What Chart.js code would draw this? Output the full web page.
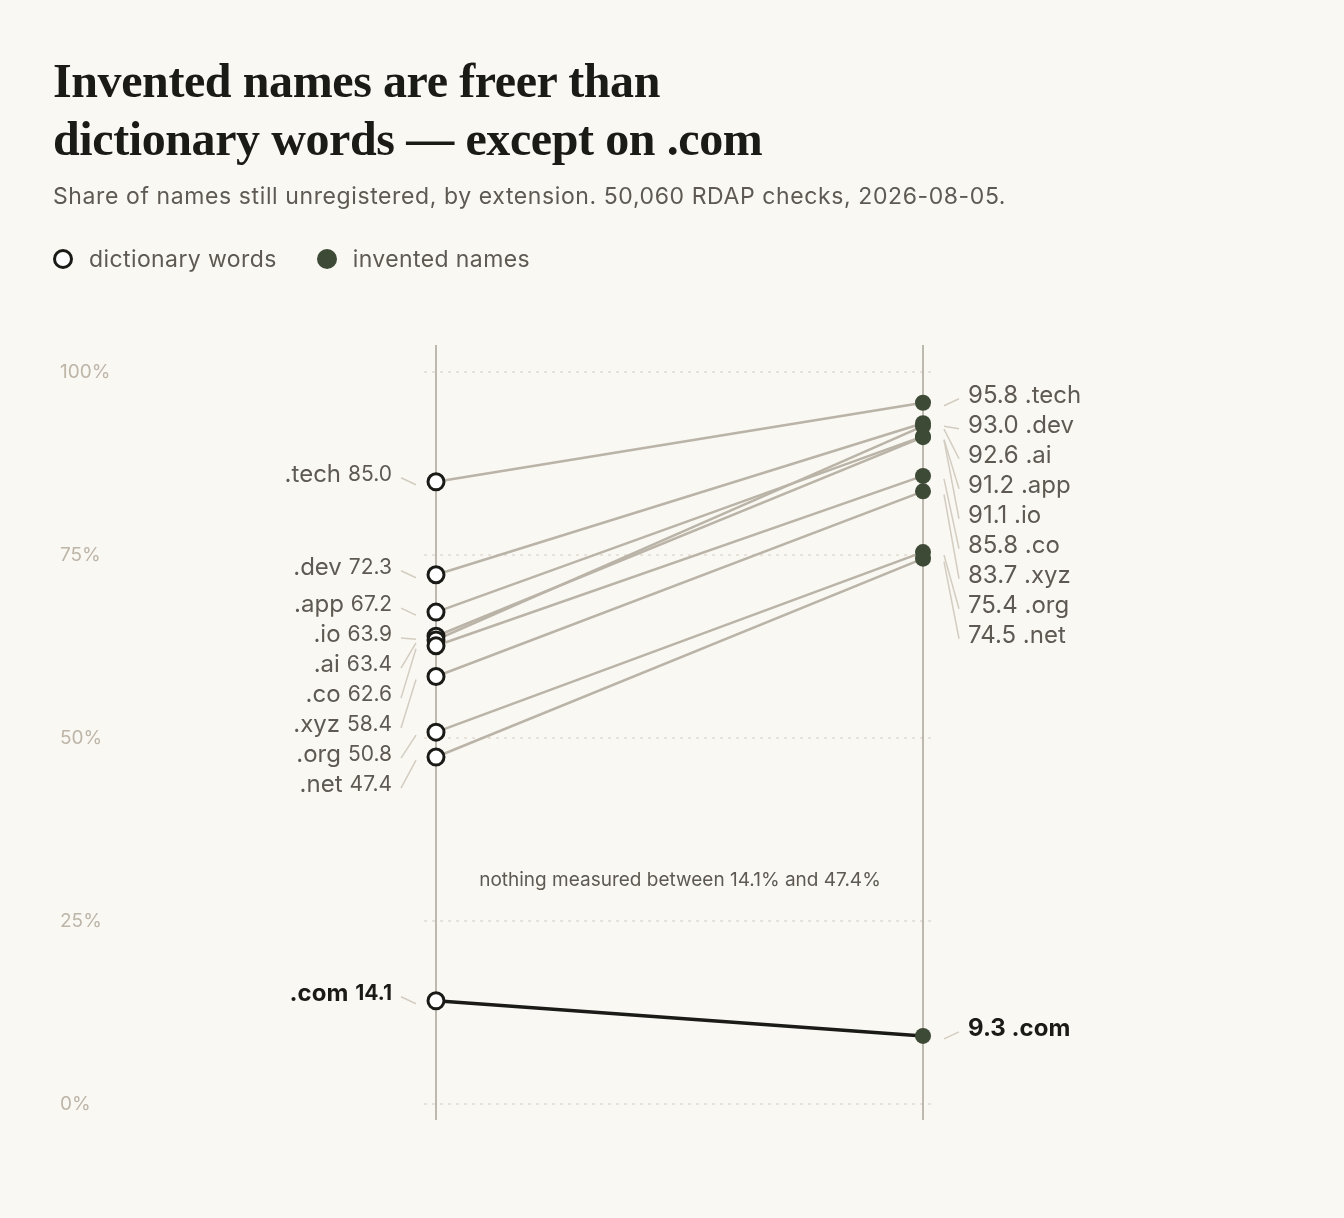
<!DOCTYPE html>
<html>
<head>
<meta charset="utf-8">
<script src="https://cdn.jsdelivr.net/npm/chart.js@4"></script>
<style>
  body { margin: 0; background: #faf8f3; font-family: "Inter", "Noto Sans", sans-serif; }
  #wrap { position: relative; width: 1344px; height: 1218px; }
  #chart { position: absolute; left: 0; top: 0; }
  h1 { position: absolute; left: 53px; top: 52px; margin: 0; font: bold 48px/58px "Liberation Serif", serif; color: #1a1a17; letter-spacing: -0.4px; }
  .sub { position: absolute; left: 53px; top: 182px; font-size: 23px; letter-spacing: 0.6px; color: #5e5a53; }
  .legend { position: absolute; left: 53px; top: 245px; font-size: 23px; letter-spacing: 0.4px; color: #5e5a53; display: flex; gap: 40px; }
  .legend span { display: flex; align-items: center; gap: 16px; }
  .dot { width: 20px; height: 20px; border-radius: 50%; box-sizing: border-box; }
</style>
</head>
<body>
<div id="wrap">
  <canvas id="chart" width="1344" height="1218"></canvas>
  <h1>Invented names are freer than<br>dictionary words — except on .com</h1>
  <div class="sub">Share of names still unregistered, by extension. 50,060 RDAP checks, 2026-08-05.</div>
  <div class="legend">
    <span><i class="dot" style="border:3.5px solid #1a1a17;background:#fff"></i>dictionary words</span>
    <span><i class="dot" style="background:#3d4a36"></i>invented names</span>
  </div>
</div>
<script>
const extensions = [".tech", ".dev", ".app", ".io", ".ai", ".co", ".xyz", ".org", ".net", ".com"];
const dictionary = [85.0, 72.3, 67.2, 63.9, 63.4, 62.6, 58.4, 50.8, 47.4, 14.1];
const invented = [95.8, 93.0, 91.2, 91.1, 92.6, 85.8, 83.7, 75.4, 74.5, 9.3];
const yTicks = [0, 25, 50, 75, 100];

const LINE = "#bab3a7", DARK = "#1a1a17", GREEN = "#3d4a36";

const lineSets = extensions.map((ext, i) => ({
  type: "line",
  data: [{ x: 0, y: dictionary[i] }, { x: 1, y: invented[i] }],
  borderColor: ext === ".com" ? DARK : LINE,
  borderWidth: ext === ".com" ? 3.5 : 2.5,
  pointRadius: 0,
  order: 2,
  clip: false
}));

const markerSets = [
  { type: "scatter", data: dictionary.map(v => ({ x: 0, y: v })), pointRadius: 8, pointBorderWidth: 3,
    pointBackgroundColor: "#fff", pointBorderColor: DARK, order: 0, clip: false },
  { type: "scatter", data: invented.map(v => ({ x: 1, y: v })), pointRadius: 8, pointBorderWidth: 0,
    pointBackgroundColor: GREEN, order: 1, clip: false }
];

// spread labels downward so they never overlap
function dodge(ys, gap) {
  const idx = ys.map((y, i) => i).sort((a, b) => ys[a] - ys[b]);
  const out = ys.slice();
  let prev = -1e9;
  idx.forEach(i => { out[i] = Math.max(ys[i], prev + gap); prev = out[i]; });
  return out;
}

const decor = {
  id: "decor",
  beforeDatasetsDraw(chart) {
    const { ctx, scales: { x, y } } = chart;
    ctx.save();
    ctx.strokeStyle = "#d3cdc1";
    ctx.lineWidth = 1.2;
    ctx.setLineDash([3, 5]);
    yTicks.forEach(t => {
      const py = y.getPixelForValue(t);
      ctx.beginPath(); ctx.moveTo(424, py); ctx.lineTo(935, py); ctx.stroke();
    });
    ctx.setLineDash([]);
    ctx.strokeStyle = "#aaa497";
    ctx.lineWidth = 1.5;
    [0, 1].forEach(v => {
      const px = x.getPixelForValue(v);
      ctx.beginPath(); ctx.moveTo(px, 345); ctx.lineTo(px, 1120); ctx.stroke();
    });
    ctx.fillStyle = "#bdb5a8";
    ctx.font = "19px Inter, sans-serif";
    ctx.textBaseline = "middle";
    ctx.textAlign = "left";
    yTicks.forEach(t => ctx.fillText(t + "%", 60, y.getPixelForValue(t)));
    ctx.fillStyle = "#5e5a53";
    ctx.font = "19px Inter, sans-serif";
    ctx.textAlign = "center";
    ctx.fillText("nothing measured between 14.1% and 47.4%", 680, 880);
    ctx.restore();
  },
  afterDatasetsDraw(chart) {
    const { ctx, scales: { x, y } } = chart;
    const lx = x.getPixelForValue(0), rx = x.getPixelForValue(1);
    const leftY = dodge(dictionary.map(v => y.getPixelForValue(v) - 7), 30);
    const rightY = dodge(invented.map(v => y.getPixelForValue(v) - 7), 30);
    ctx.save();
    ctx.textBaseline = "middle";
    extensions.forEach((ext, i) => {
      const isCom = ext === ".com";
      const nameFont = (isCom ? "bold " : "") + "24px Inter, sans-serif";
      const numFont = (isCom ? "bold " : "") + "21px Inter, sans-serif";
      const col = isCom ? DARK : "#5e5a53";
      // left
      let ly = leftY[i], dy = y.getPixelForValue(dictionary[i]);
      ctx.strokeStyle = "#d3cdc1"; ctx.lineWidth = 1.5;
      ctx.beginPath(); ctx.moveTo(lx - 35, ly + 3); ctx.lineTo(lx - 20, dy + 3); ctx.stroke();
      ctx.textAlign = "right";
      ctx.font = numFont; ctx.fillStyle = col;
      const num = dictionary[i].toFixed(1);
      ctx.fillText(num, lx - 44, ly);
      const nw = ctx.measureText(num).width;
      ctx.font = nameFont;
      ctx.fillText(ext, lx - 44 - nw - 7, ly);
      // right
      let ry = rightY[i], py = y.getPixelForValue(invented[i]);
      ctx.beginPath(); ctx.moveTo(rx + 21, py + 3); ctx.lineTo(rx + 36, ry + 3); ctx.stroke();
      ctx.textAlign = "left";
      ctx.font = isCom ? "bold 24px Inter, sans-serif" : "24px Inter, sans-serif";
      const rn = invented[i].toFixed(1);
      ctx.fillText(rn, rx + 45, ry);
      const rw = ctx.measureText(rn + " ").width;
      ctx.fillText(ext, rx + 45 + rw, ry);
    });
    ctx.restore();
  }
};

new Chart(document.getElementById("chart"), {
  data: { datasets: [...lineSets, ...markerSets] },
  plugins: [decor],
  options: {
    responsive: false,
    animation: false,
    layout: { padding: { left: 436, right: 421, top: 372, bottom: 114 } },
    scales: {
      x: { type: "linear", min: 0, max: 1, display: false },
      y: { type: "linear", min: 0, max: 100, display: false }
    },
    plugins: { legend: { display: false }, tooltip: { enabled: false } }
  }
});
</script>
</body>
</html>
